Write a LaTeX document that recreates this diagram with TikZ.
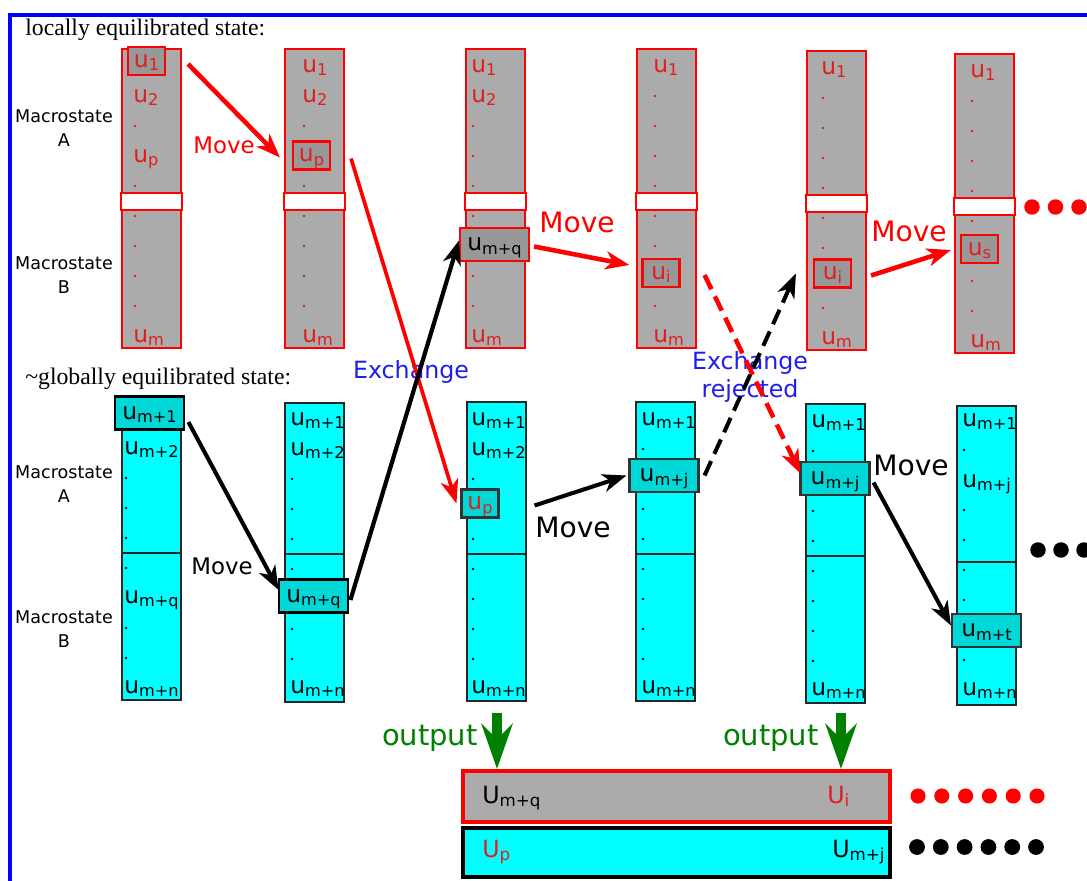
\documentclass[tikz,border=0pt]{standalone}
\usepackage{fontspec}
\setmainfont{DejaVu Sans}
\newfontfamily\titlefont{Liberation Serif}
\usetikzlibrary{arrows.meta,calc}
\definecolor{colgray}{RGB}{171,171,171}
\definecolor{boxgray}{RGB}{152,152,152}
\definecolor{colcyan}{RGB}{0,255,255}
\definecolor{boxcyan}{RGB}{0,215,215}
\definecolor{textred}{RGB}{225,30,30}
\definecolor{exblue}{RGB}{30,30,235}
\definecolor{outgreen}{RGB}{0,128,0}
\newcommand{\us}[1]{u\raisebox{-2pt}{\fontsize{9.2}{9.2}\selectfont #1}}
\newcommand{\Us}[1]{U\raisebox{-2pt}{\fontsize{9.5}{9.5}\selectfont #1}}
\newcommand{\coldots}[4]{\foreach \k in {#4}{\fill[#1] (#2,#3+30*\k) circle (0.8pt);}}

\begin{document}
\begin{tikzpicture}[x=0.02cm,y=-0.02cm,
  tcol/.style={draw=red,fill=colgray,line width=1.1pt,minimum width=1.18cm,minimum height=5.98cm,inner sep=0,anchor=north west},
  bcol/.style={draw=black!85,fill=colcyan,line width=1.1pt,minimum width=1.18cm,minimum height=5.98cm,inner sep=0,anchor=north west},
  band/.style={draw=red,fill=white,line width=1.1pt},
  ulab/.style={inner sep=0,text height=7pt,text depth=0pt,anchor=west,font=\fontsize{13.3}{13.3}\selectfont},
  tlab/.style={ulab,text=textred},
  blab/.style={ulab,text=black},
  hbox/.style={ulab,anchor=center,line width=1.2pt,minimum width=0.74cm,minimum height=0.56cm},
  wbox/.style={hbox,minimum width=1.38cm,minimum height=0.66cm},
  tbox/.style={draw=red,fill=boxgray},
  bbox/.style={draw=black!80,fill=boxcyan},
  mslab/.style={align=center,inner sep=0,font=\fontsize{10}{13.6}\selectfont},
  mvlab/.style={inner sep=0,font=\fontsize{13}{13}\selectfont},
  bigmv/.style={inner sep=0,font=\fontsize{16}{16}\selectfont},
  exlab/.style={inner sep=0,align=center,text=exblue,font=\fontsize{13.5}{16}\selectfont},
  tip/.style={-{Stealth[length=0.48cm,width=0.36cm,inset=0.14cm]}},
  mvred/.style={tip,draw=red,line width=2.6pt},
  mvblack/.style={tip,draw=black,line width=2.3pt},
  rej/.style={dash pattern=on 9pt off 4.5pt},
  outarr/.style={draw=outgreen,line width=5.6pt,-{Stealth[length=0.9cm,width=0.62cm,inset=0.3cm]}},
  outlab/.style={inner sep=0,text=outgreen,font=\fontsize{16.5}{16.5}\selectfont},
  outu/.style={inner sep=0,font=\fontsize{13.5}{13.5}\selectfont}]

  \useasboundingbox (0,0) rectangle (1087,881);
  \clip (0,0) rectangle (1087,881);
  \draw[blue,line width=2.8pt] (10,15) rectangle (1120,920);

  % titles and macrostate labels
  \node[anchor=base west,inner sep=0,font=\titlefont\fontsize{13.5}{16}\selectfont] (title1) at (25,36) {locally equilibrated state:};
  \node[anchor=base west,inner sep=0,font=\titlefont\fontsize{13.5}{16}\selectfont] (title2) at (25,384) {\textasciitilde globally equilibrated state:};
  \node[mslab] (tmA) at (64,128) {Macrostate\\A};
  \node[mslab] (tmB) at (64,275) {Macrostate\\B};
  \node[mslab] (bmA) at (64,484) {Macrostate\\A};
  \node[mslab] (bmB) at (64,629) {Macrostate\\B};

  % locally equilibrated columns
  \foreach \n/\x/\y in {1/121/48,2/284/48,3/465/48,4/636/48,5/806/50,6/954/53}{
    \node[tcol] (t\n) at (\x,\y) {};
    \draw[band] ($(t\n.north west)+(0,145)$) rectangle ($(t\n.north east)+(0,162)$);
  }
  % ~globally equilibrated columns
  \foreach \n/\x/\y/\d in {1/121/400/153,2/284/402/152,3/466/401/153,4/635/401/153,5/805/403/153,6/956/405/157}{
    \node[bcol] (b\n) at (\x,\y) {};
    \draw[black!85,line width=1.1pt] ($(b\n.north west)+(0,\d)$) -- ($(b\n.north east)+(0,\d)$);
  }

  % column 1 top
  \node[hbox,tbox,text=textred] (t1b) at (146.5,61) {\us{1}};
  \node[tlab] (t1u2) at (133,96) {\us{2}};
  \node[tlab] (t1up) at (133,156) {\us{p}};
  \node[tlab] (t1um) at (133,336) {\us{m}};
  \coldots{textred}{135}{66}{2,4,5,6,7,8}
  % column 2 top
  \node[tlab] (t2u1) at (302,66) {\us{1}};
  \node[tlab] (t2u2) at (302,96) {\us{2}};
  \node[hbox,tbox,text=textred] (t2b) at (311.5,155.5) {\us{p}};
  \node[tlab] (t2um) at (302,336) {\us{m}};
  \coldots{textred}{304}{66}{2,4,5,6,7,8}
  % column 3 top
  \node[tlab] (t3u1) at (471,66) {\us{1}};
  \node[tlab] (t3u2) at (471,96) {\us{2}};
  \node[wbox,tbox,text=black] (t3b) at (494.5,244.5) {\us{m+q}};
  \node[tlab] (t3um) at (471,336) {\us{m}};
  \coldots{textred}{473}{66}{2,3,4,5,7,8}
  % column 4 top
  \node[tlab] (t4u1) at (653,66) {\us{1}};
  \node[hbox,tbox,text=textred] (t4b) at (661,273) {\us{i}};
  \node[tlab] (t4um) at (653,336) {\us{m}};
  \coldots{textred}{655}{66}{1,2,3,4,5,6,8}
  % column 5 top
  \node[tlab] (t5u1) at (821,68) {\us{1}};
  \node[hbox,tbox,text=textred] (t5b) at (832.5,273.5) {\us{i}};
  \node[tlab] (t5um) at (821,338) {\us{m}};
  \coldots{textred}{823}{68}{1,2,3,4,5,6,8}
  % column 6 top
  \node[tlab] (t6u1) at (970,71) {\us{1}};
  \node[hbox,tbox,text=textred] (t6b) at (979.5,249) {\us{s}};
  \node[tlab] (t6um) at (970,341) {\us{m}};
  \coldots{textred}{972}{71}{1,2,3,4,5,7,8}

  % column 1 bottom
  \node[wbox,bbox,draw=black,line width=1.6pt] (b1b) at (149.5,413) {\us{m+1}};
  \node[blab] (b1u2) at (124,448) {\us{m+2}};
  \node[blab] (b1uq) at (124,597) {\us{m+q}};
  \node[blab] (b1un) at (124,687) {\us{m+n}};
  \coldots{black}{126}{418}{2,3,4,5,7,8}
  % column 2 bottom
  \node[blab] (b2u1) at (290,419) {\us{m+1}};
  \node[blab] (b2u2) at (290,449) {\us{m+2}};
  \node[wbox,bbox,draw=black,line width=1.6pt] (b2b) at (313.5,596) {\us{m+q}};
  \node[blab] (b2un) at (290,687) {\us{m+n}};
  \coldots{black}{292}{419}{2,3,4,5,7,8}
  % column 3 bottom
  \node[blab] (b3u1) at (471,419) {\us{m+1}};
  \node[blab] (b3u2) at (471,449) {\us{m+2}};
  \node[hbox,bbox,text=textred] (b3b) at (480,503.5) {\us{p}};
  \node[blab] (b3un) at (471,687) {\us{m+n}};
  \coldots{black}{473}{419}{2,4,5,6,7,8}
  % column 4 bottom
  \node[blab] (b4u1) at (641,419) {\us{m+1}};
  \node[wbox,bbox] (b4b) at (664,475.5) {\us{m+j}};
  \node[blab] (b4un) at (641,687) {\us{m+n}};
  \coldots{black}{643}{419}{1,3,4,5,6,7,8}
  % column 5 bottom
  \node[blab] (b5u1) at (811,421) {\us{m+1}};
  \node[wbox,bbox] (b5b) at (835,478.5) {\us{m+j}};
  \node[blab] (b5un) at (811,689) {\us{m+n}};
  \coldots{black}{813}{421}{1,3,4,5,6,7,8}
  % column 6 bottom
  \node[blab] (b6u1) at (962,420) {\us{m+1}};
  \node[blab] (b6uj) at (962,481) {\us{m+j}};
  \node[wbox,bbox] (b6b) at (986.5,630.5) {\us{m+t}};
  \node[blab] (b6un) at (962,689) {\us{m+n}};
  \coldots{black}{964}{420}{1,3,4,5,6,8}

  % moves and exchanges
  \draw[mvred] ($(t1b.east)+(22,3)$) -- ($(t2b.west)+(-12,2)$);
  \node[mvlab,text=red] (mv1) at (224,145) {Move};
  \node[exlab] (ex1) at (411,372) {Exchange};
  \draw[mvred,line width=2.1pt] ($(t2b.east)+(20,3)$) -- ($(b3b.west)+(-4,0)$);
  \draw[mvblack,line width=2.4pt] ($(b2b.east)+(1,4)$) -- ($(t3b.west)+(0,-4)$);
  \draw[mvred] ($(t3b.east)+(4,2)$) -- ($(t4b.west)+(-12,-8)$);
  \node[bigmv,text=red] (mv2) at (577,222) {Move};
  \node[exlab] (ex2) at (750,377) {Exchange\\rejected};
  \draw[mvred,rej] ($(t4b.east)+(24,2)$) -- ($(b5b.west)+(1,-5)$);
  \draw[mvblack,rej] ($(b4b.east)+(5,0)$) -- ($(t5b.west)+(-17,0)$);
  \draw[mvred] ($(t5b.east)+(19,2)$) -- ($(t6b.west)+(-9,1)$);
  \node[bigmv,text=red] (mv3) at (909,231) {Move};
  \draw[mvblack] ($(b1b.east)+(3,9)$) -- ($(b2b.west)+(1,-6)$);
  \node[mvlab] (mv4) at (222,566) {Move};
  \draw[mvblack] ($(b3b.east)+(35,2)$) -- ($(b4b.west)+(-2,0)$);
  \node[bigmv] (mv5) at (573,527) {Move};
  \draw[mvblack] ($(b5b.east)+(3,4)$) -- ($(b6b.west)+(0,-5)$);
  \node[bigmv] (mv6) at (911,465) {Move};

  % more states
  \foreach \i in {0,1,2} \fill[red] (1032+23.5*\i,207) circle (4.4pt);
  \foreach \i in {0,1,2} \fill[black] (1038+23*\i,550) circle (4.4pt);

  % output
  \node[draw=red,fill=colgray,line width=2.3pt,minimum width=8.54cm,minimum height=1.02cm,inner sep=0] (og) at (676.5,796.5) {};
  \node[draw=black,fill=colcyan,line width=2.6pt,minimum width=8.54cm,minimum height=0.98cm,inner sep=0] (oc) at (676.5,852.5) {};
  \node[outu,anchor=base west] (ogl) at (482,803) {\Us{m+q}};
  \node[outu,anchor=base west,text=textred] (ogr) at (827,803) {\Us{i}};
  \node[outu,anchor=base west,text=textred] (ocl) at (482,857) {\Us{p}};
  \node[outu,anchor=base west] (ocr) at (832,857) {\Us{m+j}};
  \coordinate (o1) at (497,713);
  \coordinate (o2) at (841,713);
  \draw[outarr] (o1) -- (o1 |- og.north);
  \draw[outarr] (o2) -- (o2 |- og.north);
  \node[outlab,anchor=base east] (out1) at (478,745) {output};
  \node[outlab,anchor=base east] (out2) at (819,745) {output};
  \foreach \i in {0,...,5} \fill[red] (918+23.8*\i,796) circle (4.3pt);
  \foreach \i in {0,...,5} \fill[black] (917+23.8*\i,847) circle (4.5pt);
\end{tikzpicture}
\end{document}
